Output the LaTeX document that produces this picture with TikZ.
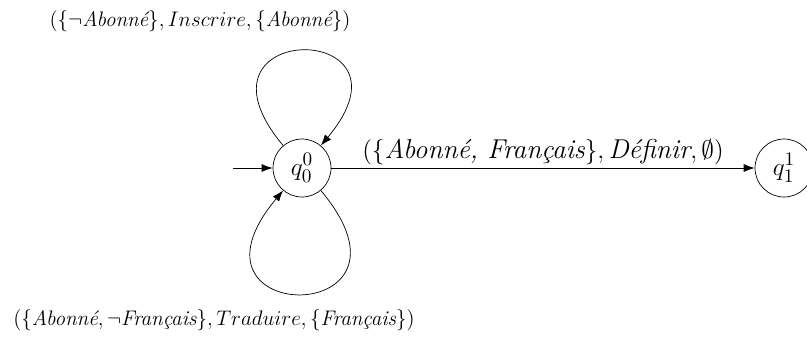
\documentclass[tikz,border=0pt]{standalone}
\usepackage{amsmath,amssymb}
\usepackage{tikz}
\usetikzlibrary{arrows.meta}

\begin{document}
\begin{tikzpicture}[
    x=0.02cm, y=0.02cm,
    font=\large,
    big/.style={font=\fontsize{15.5}{18}\selectfont},
    state/.style={circle, draw, big, inner sep=0pt, minimum size=1.16cm},
    trans/.style={-{Latex[length=2.2mm,width=1.6mm]}}
]
  \useasboundingbox (0,0) rectangle (807,343);

  % States
  \node[state] (q0) at (302,175) {$q_0^0$};
  \node[state] (q1) at (784,175) {$q_1^1$};
  \coordinate (init) at (233,175);

  % Transitions
  \draw[trans] (init) -- (q0);
  \draw[trans] (q0) -- (q1) node[midway, above, big, inner sep=1.5pt] {$(\{\textit{Abonné, Français}\}, \textit{Définir}, \emptyset)$};
  \draw[trans] (q0) to[out=130, in=50, distance=3.3cm] (q0);
  \draw[trans] (q0) to[out=-50, in=-130, distance=3.6cm] (q0);

  % Loop labels
  \node (lbltop) at (200,322) {$(\{\neg \textit{Abonné}\}, Inscrire, \{\textit{Abonné}\})$};
  \node (lblbot) at (214,23) {$(\{\textit{Abonné}, \neg\textit{Français}\}, Traduire, \{\textit{Français}\})$};
\end{tikzpicture}
\end{document}
